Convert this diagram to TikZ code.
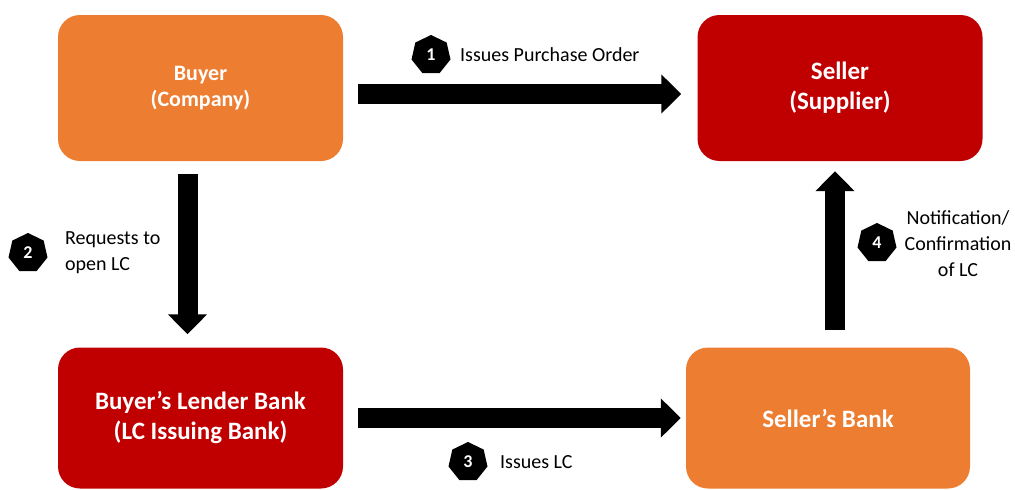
\documentclass[tikz,border=0pt]{standalone}
\usepackage{fontspec}
\setmainfont{Carlito}
\usepackage{tikz}
\usetikzlibrary{calc,arrows.meta,shapes.geometric}
\usepackage{xcolor}
\definecolor{boxorange}{HTML}{ED7D31}
\definecolor{boxred}{HTML}{C00000}

\begin{document}
\begin{tikzpicture}[x=1pt, y=-1pt]

            % Styles for boxes, badges and arrows
            \tikzstyle{orangebox} = [rectangle, rounded corners=22pt, minimum width=285pt, minimum height=146pt, text centered, align=center, fill=boxorange, text=white]
            \tikzstyle{redbox} = [rectangle, rounded corners=22pt, minimum width=285pt, minimum height=146pt, text centered, align=center, fill=boxred, text=white]
            \tikzstyle{badge} = [regular polygon, regular polygon sides=7, minimum size=40pt, inner sep=0pt, fill=black, text=white, font=\fontsize{18}{18}\selectfont\bfseries]
            \tikzstyle{steplabel} = [inner sep=0pt, font=\fontsize{20}{26}\selectfont]
            \tikzstyle{blockarrow} = [line width=20pt, -{Triangle[width=38pt,length=20pt]}]

            \useasboundingbox (0,0) rectangle (1015,490);

            % Boxes
            \node (buyer) [orangebox, font=\fontsize{22}{26}\selectfont\bfseries] at (200.5,88) {Buyer\\(Company)};
            \node (seller) [redbox, font=\fontsize{25}{30}\selectfont\bfseries] at (840,88) {Seller\\(Supplier)};
            \node (lender) [redbox, minimum height=141pt, font=\fontsize{25}{30}\selectfont\bfseries] at (200.5,418) {Buyer’s Lender Bank\\(LC Issuing Bank)};
            \node (sbank) [orangebox, minimum width=284pt, minimum height=141pt, font=\fontsize{25}{30}\selectfont\bfseries] at (828,418) {Seller’s Bank};

            % Arrows between boxes
            \draw [blockarrow, shorten <=15pt, shorten >=16pt] ([yshift=-6pt]buyer.east) -- ([yshift=-6pt]seller.west);
            \draw [blockarrow, shorten <=13pt, shorten >=13pt] ([xshift=-13pt]buyer.south) -- ([xshift=-13pt]lender.north);
            \draw [blockarrow, shorten <=15pt, shorten >=5pt] (lender.east) -- (sbank.west);
            \draw [blockarrow, shorten <=17pt, shorten >=10pt] ([xshift=7pt]sbank.north) -- ([xshift=-5pt]seller.south);

            % Numbered steps
            \node (b1) [badge] at (431,55) {1};
            \node (l1) [steplabel, anchor=west] at (460,55) {Issues Purchase Order};
            \node (b2) [badge] at (28,253) {2};
            \node (l2) [steplabel, anchor=west, align=left] at (65,253) {Requests to\\open LC};
            \node (b3) [badge] at (468,462) {3};
            \node (l3) [steplabel, anchor=west] at (500,462) {Issues LC};
            \node (b4) [badge] at (877,243) {4};
            \node (l4) [steplabel, align=center] at (958,244) {Notification/\\Confirmation\\of LC};

\end{tikzpicture}
\end{document}
